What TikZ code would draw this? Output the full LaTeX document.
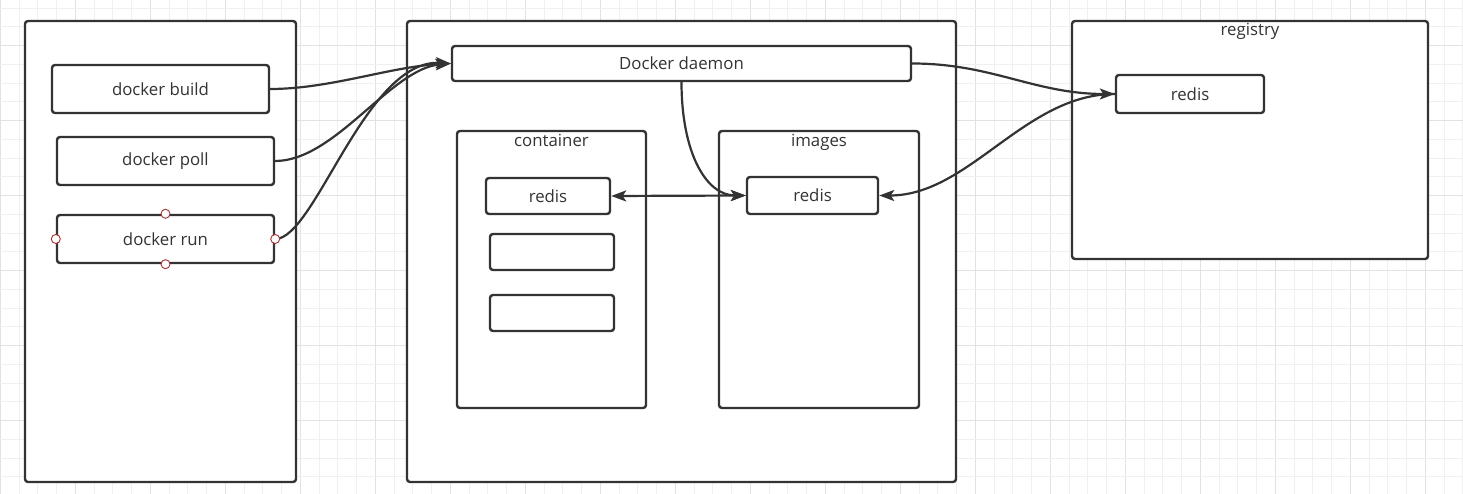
\documentclass[tikz,border=0pt]{standalone}
\usepackage{fontspec}
\setmainfont{Open Sans}
\usetikzlibrary{arrows.meta}
\definecolor{ink}{HTML}{333333}
\definecolor{gridminor}{HTML}{F0F0F0}
\definecolor{gridmajor}{HTML}{E2E2E2}
\definecolor{portred}{HTML}{A83232}
\tikzset{
  box/.style={draw=ink, line width=2.4pt, fill=white, rounded corners=3pt, inner sep=0pt, text=ink, font=\fontsize{16.8}{19}\selectfont},
  lbl/.style={text=ink, inner sep=0pt, anchor=base, font=\fontsize{16.8}{19}\selectfont},
  link/.style={draw=ink, line width=2.2pt, -{Stealth[length=15pt,width=11pt,inset=3.5pt]}},
  port/.style={circle, draw=portred, fill=white, line width=0.9pt, minimum size=9pt, inner sep=0pt}
}
\begin{document}
\begin{tikzpicture}[x=1pt,y=-1pt]
\useasboundingbox (0,0) rectangle (1463,494);
\fill[white] (0,0) rectangle (1463,494);
% grid
\foreach \i in {0,...,78} {
  \pgfmathsetmacro{\gx}{0.3+18.75*\i}
  \pgfmathtruncatemacro{\m}{mod(\i,4)}
  \ifnum\m=0 \draw[gridmajor, line width=1pt] (\gx,0) -- (\gx,494); \else \draw[gridminor, line width=1pt] (\gx,0) -- (\gx,494); \fi
}
\foreach \j in {0,...,26} {
  \pgfmathsetmacro{\gy}{8.2+18.75*\j}
  \pgfmathtruncatemacro{\m}{mod(\j,4)}
  \ifnum\m=2 \draw[gridmajor, line width=1pt] (0,\gy) -- (1463,\gy); \else \draw[gridminor, line width=1pt] (0,\gy) -- (1463,\gy); \fi
}
% panels
\node[box, minimum width=271pt, minimum height=461pt] (left) at (160.5,251.5) {};
\node[box, minimum width=549pt, minimum height=461pt] (mid) at (681.5,251.5) {};
\node[box, minimum width=356pt, minimum height=238pt] (registry) at (1250,140) {};
\node[lbl] (registrylbl) at (1250,36) {registry};
% left commands
\node[box, minimum width=217pt, minimum height=48pt] (build) at (160.5,89) {docker build};
\node[box, minimum width=217pt, minimum height=48pt] (poll) at (165.5,161) {docker poll};
\node[box, minimum width=217pt, minimum height=48pt] (run) at (165.5,239) {docker run};
% daemon
\node[box, minimum width=459pt, minimum height=35pt] (daemon) at (681.5,63.5) {Docker daemon};
% container
\node[box, minimum width=189pt, minimum height=277pt] (container) at (551.5,269.5) {};
\node[lbl] (containerlbl) at (551.5,147) {container};
\node[box, minimum width=124pt, minimum height=36pt] (credis) at (548,196) {redis};
\node[box, minimum width=124pt, minimum height=36pt] (cbox2) at (552,252) {};
\node[box, minimum width=124pt, minimum height=36pt] (cbox3) at (552,313) {};
% images
\node[box, minimum width=200pt, minimum height=277pt] (images) at (819,269.5) {};
\node[lbl] (imageslbl) at (819,147) {images};
\node[box, minimum width=131pt, minimum height=37pt] (iredis) at (812.5,195.5) {redis};
% registry redis
\node[box, minimum width=148pt, minimum height=38pt] (rredis) at (1190,94) {redis};
% ports on docker run
\node[port] (pn) at (run.north) {};
\node[port] (ps) at (run.south) {};
\node[port] (pw) at (run.west) {};
% connectors
\draw[link] (build.east) .. controls +(60,0) and +(-60,3) .. (daemon.west);
\draw[link] (poll.east) .. controls +(60,0) and +(-60,5) .. (daemon.west);
\draw[link] (run.east) .. controls +(40,0) and +(-85,-5) .. (daemon.west);
\draw[link] (daemon.east) .. controls +(80,0) and +(-80,0) .. (rredis.west);
\draw[link] (rredis.west) .. controls +(-90,0) and +(90,0) .. (iredis.east);
\draw[link] (daemon.south) .. controls +(0,70) and +(-40,0) .. (iredis.west);
\draw[link, {Stealth[length=15pt,width=11pt,inset=3.5pt]}-{Stealth[length=15pt,width=11pt,inset=3.5pt]}] (credis.east) -- (iredis.west);
\node[port] (pe) at (run.east) {};
\end{tikzpicture}
\end{document}
